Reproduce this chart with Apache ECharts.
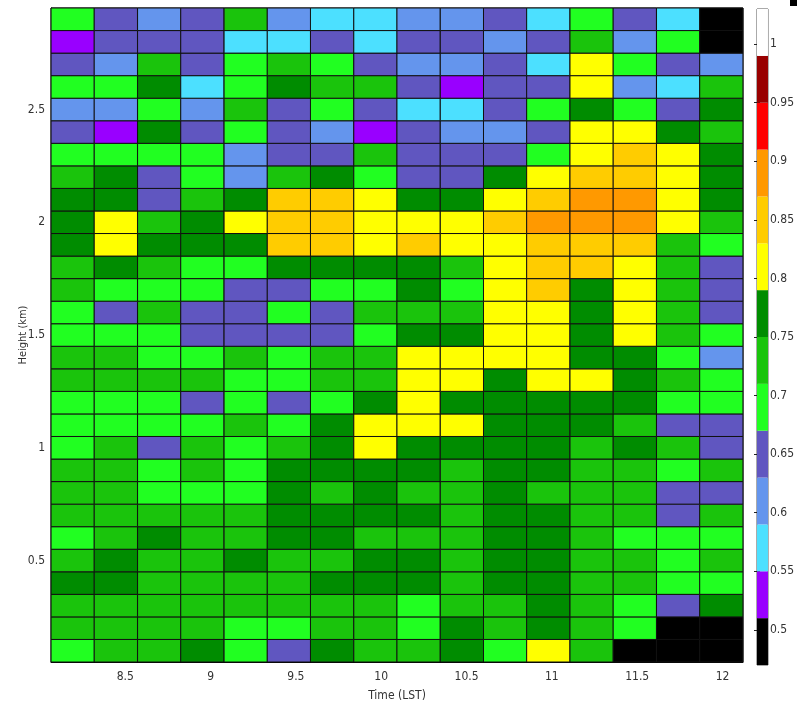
<!DOCTYPE html>
<html>
<head>
<meta charset="utf-8">
<title>Height–time section</title>
<script src="https://cdn.jsdelivr.net/npm/echarts@6/dist/echarts.min.js"></script>
<style>
  html, body { margin: 0; padding: 0; background: #fff; }
  #chart { width: 797px; height: 707px; }
</style>
</head>
<body>
<div id="chart"></div>
<script>
// Profile times (LST, hours) – one column per profile
const times = [8.192, 8.445, 8.699, 8.952, 9.206, 9.459, 9.712, 9.966,
               10.219, 10.473, 10.726, 10.979, 11.233, 11.486, 11.740, 11.993];

// Range gate centres (km)
const heights = [0.1, 0.2, 0.3, 0.4, 0.5, 0.6, 0.7, 0.8, 0.9, 1.0,
                 1.1, 1.2, 1.3, 1.4, 1.5, 1.6, 1.7, 1.8, 1.9, 2.0,
                 2.1, 2.2, 2.3, 2.4, 2.5, 2.6, 2.7, 2.8, 2.9];

// Values per gate, listed from the lowest gate (0.1 km) upward; 0.49 = no data
const values = [
  [0.69, 0.73, 0.73, 0.77, 0.69, 0.65, 0.77, 0.73, 0.73, 0.77, 0.69, 0.81, 0.73, 0.49, 0.49, 0.49], // 0.1
  [0.73, 0.73, 0.73, 0.73, 0.69, 0.69, 0.73, 0.73, 0.69, 0.77, 0.73, 0.77, 0.73, 0.69, 0.49, 0.49], // 0.2
  [0.73, 0.73, 0.73, 0.73, 0.73, 0.73, 0.73, 0.73, 0.69, 0.73, 0.73, 0.77, 0.73, 0.69, 0.65, 0.77], // 0.3
  [0.77, 0.77, 0.73, 0.73, 0.73, 0.73, 0.77, 0.77, 0.77, 0.73, 0.77, 0.77, 0.73, 0.73, 0.69, 0.69], // 0.4
  [0.73, 0.77, 0.73, 0.73, 0.77, 0.73, 0.73, 0.77, 0.77, 0.73, 0.77, 0.77, 0.73, 0.73, 0.69, 0.73], // 0.5
  [0.69, 0.73, 0.77, 0.73, 0.73, 0.77, 0.77, 0.73, 0.73, 0.73, 0.77, 0.77, 0.73, 0.69, 0.69, 0.69], // 0.6
  [0.73, 0.73, 0.73, 0.73, 0.73, 0.77, 0.77, 0.77, 0.77, 0.73, 0.77, 0.77, 0.73, 0.73, 0.65, 0.73], // 0.7
  [0.73, 0.73, 0.69, 0.69, 0.69, 0.77, 0.73, 0.77, 0.73, 0.73, 0.77, 0.73, 0.73, 0.73, 0.65, 0.65], // 0.8
  [0.73, 0.73, 0.69, 0.73, 0.69, 0.77, 0.77, 0.77, 0.77, 0.73, 0.77, 0.77, 0.73, 0.73, 0.69, 0.73], // 0.9
  [0.69, 0.73, 0.65, 0.73, 0.69, 0.73, 0.77, 0.81, 0.77, 0.77, 0.77, 0.77, 0.73, 0.77, 0.73, 0.65], // 1.0
  [0.69, 0.69, 0.69, 0.69, 0.73, 0.69, 0.77, 0.81, 0.81, 0.81, 0.77, 0.77, 0.77, 0.73, 0.65, 0.65], // 1.1
  [0.69, 0.69, 0.69, 0.65, 0.69, 0.65, 0.69, 0.77, 0.81, 0.77, 0.77, 0.77, 0.77, 0.77, 0.69, 0.69], // 1.2
  [0.73, 0.73, 0.73, 0.73, 0.69, 0.69, 0.73, 0.73, 0.81, 0.81, 0.77, 0.81, 0.81, 0.77, 0.73, 0.69], // 1.3
  [0.73, 0.73, 0.69, 0.69, 0.73, 0.69, 0.73, 0.73, 0.81, 0.81, 0.81, 0.81, 0.77, 0.77, 0.69, 0.61], // 1.4
  [0.69, 0.69, 0.69, 0.65, 0.65, 0.65, 0.65, 0.69, 0.77, 0.77, 0.81, 0.81, 0.77, 0.81, 0.73, 0.69], // 1.5
  [0.69, 0.65, 0.73, 0.65, 0.65, 0.69, 0.65, 0.73, 0.73, 0.73, 0.81, 0.81, 0.77, 0.81, 0.73, 0.65], // 1.6
  [0.73, 0.69, 0.69, 0.69, 0.65, 0.65, 0.69, 0.69, 0.77, 0.69, 0.81, 0.85, 0.77, 0.81, 0.73, 0.65], // 1.7
  [0.73, 0.77, 0.73, 0.69, 0.69, 0.77, 0.77, 0.77, 0.77, 0.73, 0.81, 0.85, 0.85, 0.81, 0.73, 0.65], // 1.8
  [0.77, 0.81, 0.77, 0.77, 0.77, 0.85, 0.85, 0.81, 0.85, 0.81, 0.81, 0.85, 0.85, 0.85, 0.73, 0.69], // 1.9
  [0.77, 0.81, 0.73, 0.77, 0.81, 0.85, 0.85, 0.81, 0.81, 0.81, 0.85, 0.89, 0.89, 0.89, 0.81, 0.73], // 2.0
  [0.77, 0.77, 0.65, 0.73, 0.77, 0.85, 0.85, 0.81, 0.77, 0.77, 0.81, 0.85, 0.89, 0.89, 0.81, 0.77], // 2.1
  [0.73, 0.77, 0.65, 0.69, 0.61, 0.73, 0.77, 0.69, 0.65, 0.65, 0.77, 0.81, 0.85, 0.85, 0.81, 0.77], // 2.2
  [0.69, 0.69, 0.69, 0.69, 0.61, 0.65, 0.65, 0.73, 0.65, 0.65, 0.65, 0.69, 0.81, 0.85, 0.81, 0.77], // 2.3
  [0.65, 0.53, 0.77, 0.65, 0.69, 0.65, 0.61, 0.53, 0.65, 0.61, 0.61, 0.65, 0.81, 0.81, 0.77, 0.73], // 2.4
  [0.61, 0.61, 0.69, 0.61, 0.73, 0.65, 0.69, 0.65, 0.57, 0.57, 0.65, 0.69, 0.77, 0.69, 0.65, 0.77], // 2.5
  [0.69, 0.69, 0.77, 0.57, 0.69, 0.77, 0.73, 0.73, 0.65, 0.53, 0.65, 0.65, 0.81, 0.61, 0.57, 0.73], // 2.6
  [0.65, 0.61, 0.73, 0.65, 0.69, 0.73, 0.69, 0.65, 0.61, 0.61, 0.65, 0.57, 0.81, 0.69, 0.65, 0.61], // 2.7
  [0.53, 0.65, 0.65, 0.65, 0.57, 0.57, 0.65, 0.57, 0.65, 0.65, 0.61, 0.65, 0.73, 0.61, 0.69, 0.49], // 2.8
  [0.69, 0.65, 0.61, 0.65, 0.73, 0.61, 0.57, 0.57, 0.61, 0.61, 0.65, 0.57, 0.69, 0.65, 0.57, 0.49]  // 2.9
];

// Colour classes: edges and one colour per class
const classEdges = [0.47, 0.51, 0.55, 0.59, 0.63, 0.67, 0.71, 0.75, 0.79, 0.83, 0.87, 0.91, 0.95, 0.99, 1.03];
const classColors = ['#000000', '#9900ff', '#4ce0ff', '#6495ed', '#6056c0', '#21ff21', '#1ac40c',
                     '#008c00', '#ffff00', '#ffcc00', '#ff9900', '#ff0000', '#990000', '#ffffff'];

// Tick labels
const timeTicks = [8.5, 9, 9.5, 10, 10.5, 11, 11.5, 12];
const heightTicks = [0.5, 1, 1.5, 2, 2.5];
const barTicks = [0.5, 0.55, 0.6, 0.65, 0.7, 0.75, 0.8, 0.85, 0.9, 0.95, 1];

const CELL_W = 0.2534; // hours per profile
const CELL_H = 0.1;    // km per gate
const FONT = "'Liberation Sans Narrow', 'DejaVu Sans Condensed', 'Liberation Sans', sans-serif";

const cellData = [];
values.forEach((row, r) => {
  row.forEach((v, c) => cellData.push([times[c], heights[r], v]));
});

const barData = [];
for (let i = 0; i < classColors.length; i++) {
  barData.push([classEdges[i], classEdges[i + 1], (classEdges[i] + classEdges[i + 1]) / 2]);
}

const pieces = classColors.map((col, i) => ({ gte: classEdges[i], lt: classEdges[i + 1], color: col }));

const chart = echarts.init(document.getElementById('chart'), null, { renderer: 'canvas' });

chart.setOption({
  animation: false,
  backgroundColor: '#ffffff',
  textStyle: { fontFamily: FONT },
  grid: [
    { left: 51, top: 8, width: 692, height: 655, show: true, borderColor: '#000', borderWidth: 1 },
    { left: 757, top: 9, width: 19, height: 656, show: true, borderColor: '#555', borderWidth: 1 }
  ],
  xAxis: [
    {
      type: 'value', gridIndex: 0, min: 8.065, max: 12.12,
      name: 'Time (LST)', nameLocation: 'middle', nameGap: 34, nameMoveOverlap: false,
      nameTextStyle: { fontSize: 12, color: '#333', fontFamily: FONT, verticalAlign: 'middle' },
      axisLine: { show: true, lineStyle: { color: '#000' } },
      axisTick: { show: false },
      splitLine: { show: false },
      axisLabel: { customValues: timeTicks, fontSize: 12, color: '#333', margin: 9, fontFamily: FONT }
    },
    { type: 'value', gridIndex: 1, min: 0, max: 1, show: false }
  ],
  yAxis: [
    {
      type: 'value', gridIndex: 0, min: 0.05, max: 2.95,
      name: 'Height (km)', nameLocation: 'middle', nameGap: 28, nameRotate: 90, nameMoveOverlap: false,
      nameTextStyle: { fontSize: 11, color: '#333', fontFamily: FONT, verticalAlign: 'middle' },
      axisLine: { show: true, lineStyle: { color: '#000' } },
      axisTick: { show: false },
      splitLine: { show: false },
      axisLabel: { customValues: heightTicks, fontSize: 12, color: '#333', margin: 6, fontFamily: FONT }
    },
    {
      type: 'value', gridIndex: 1, min: 0.47, max: 1.03, position: 'right',
      axisLine: { show: false },
      axisTick: { show: true, inside: true, length: 3, customValues: barTicks, lineStyle: { color: '#222' } },
      splitLine: { show: false },
      axisLabel: { customValues: barTicks, fontSize: 12, color: '#333', margin: 2, fontFamily: FONT }
    },
    {
      type: 'value', gridIndex: 1, min: 0.47, max: 1.03, position: 'left',
      axisLine: { show: false },
      axisTick: { show: true, inside: true, length: 3, customValues: barTicks, lineStyle: { color: '#222' } },
      splitLine: { show: false },
      axisLabel: { show: false }
    }
  ],
  visualMap: {
    type: 'piecewise', show: false, dimension: 2, seriesIndex: [0, 1], pieces: pieces
  },
  series: [
    {
      type: 'custom', xAxisIndex: 0, yAxisIndex: 0, data: cellData,
      encode: { x: 0, y: 1 },
      renderItem(params, api) {
        const t = api.value(0), h = api.value(1);
        const p0 = api.coord([t - CELL_W / 2, h + CELL_H / 2]);
        const p1 = api.coord([t + CELL_W / 2, h - CELL_H / 2]);
        return {
          type: 'rect',
          shape: { x: p0[0], y: p0[1], width: p1[0] - p0[0], height: p1[1] - p0[1] },
          style: { fill: api.visual('color'), stroke: '#111', lineWidth: 1 }
        };
      }
    },
    {
      type: 'custom', xAxisIndex: 1, yAxisIndex: 1, data: barData,
      encode: { y: [0, 1] },
      renderItem(params, api) {
        const p0 = api.coord([0, api.value(1)]);
        const p1 = api.coord([1, api.value(0)]);
        return {
          type: 'rect',
          shape: { x: p0[0], y: p0[1], width: p1[0] - p0[0], height: p1[1] - p0[1] },
          style: { fill: api.visual('color') }
        };
      },
      z: 1
    }
  ],
  graphic: [
    { type: 'rect', left: 790, top: 0, shape: { width: 7, height: 6 }, style: { fill: '#000' } }
  ]
});
</script>
</body>
</html>
